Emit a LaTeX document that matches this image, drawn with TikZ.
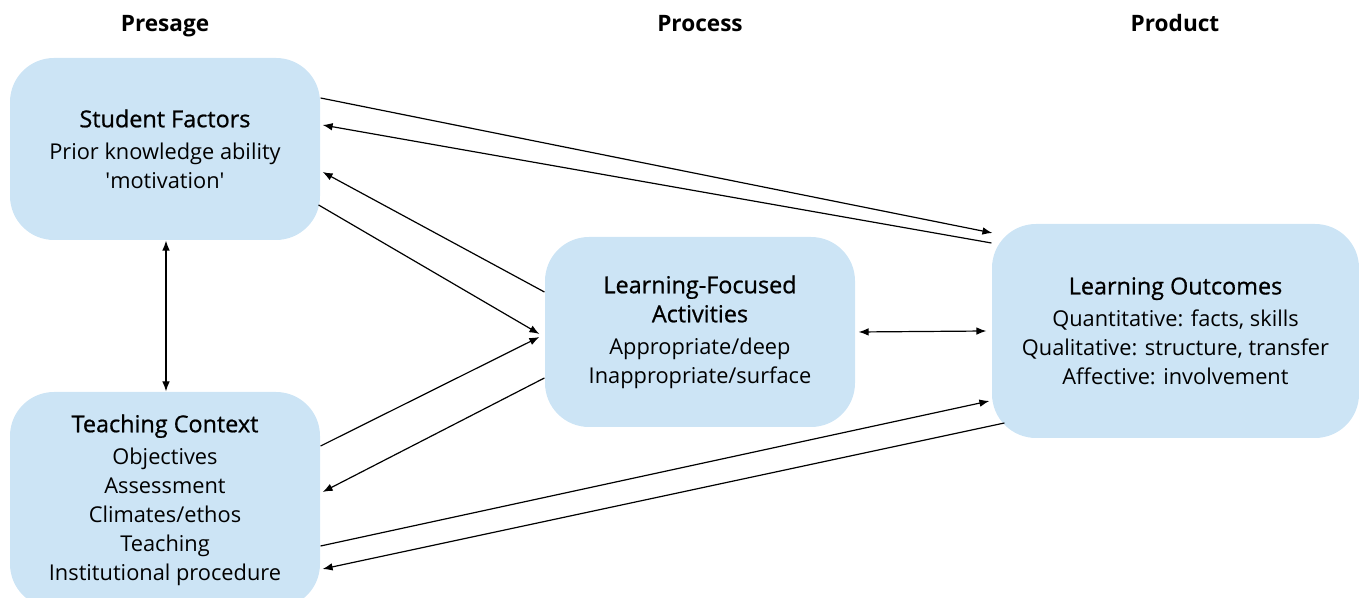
\documentclass[tikz,border=0pt]{standalone}
\usepackage{fontspec}
\setmainfont{Open Sans}
\newfontfamily\titlefont[FakeBold=0.8]{Open Sans}
\usetikzlibrary{positioning,calc,arrows.meta}
\definecolor{boxblue}{HTML}{CCE4F5}
\newcommand{\boxtitle}[1]{{\titlefont\fontsize{11.7}{14.5}\selectfont #1}}
\tikzset{
  factor box/.style={fill=boxblue, rounded corners=22pt, align=center, inner sep=0pt,
    font=\fontsize{10.9}{14.5}\selectfont},
  stage/.style={font=\bfseries\fontsize{11.3}{12}\selectfont, anchor=base},
}
\begin{document}
\begin{tikzpicture}[x=0.5pt, y=0.5pt, >={Latex[length=5pt,width=3.8pt]}, line width=0.6pt]
   \useasboundingbox (0,0) rectangle (1359,598);

   % stage headings
   \path (165,566) node[stage] (presage) {Presage}
   (700,566) node[stage] (process) {Process}
   (1175,566) node[stage] (product) {Product};

   % boxes
   \path (165,449) node[factor box, minimum width=155pt, minimum height=91pt] (sf)
   {\boxtitle{Student Factors}\\[1.5pt] Prior knowledge ability\\ \textquotesingle motivation\textquotesingle};
   \path (165,98) node[factor box, minimum width=155pt, minimum height=108pt] (tc)
   {\boxtitle{Teaching Context}\\[1.5pt] Objectives\\ Assessment\\ Climates/ethos\\ Teaching\\ Institutional procedure};
   \path (700,266) node[factor box, minimum width=155pt, minimum height=95pt] (lfa)
   {\boxtitle{Learning-Focused}\\ \boxtitle{Activities}\\[1.5pt] Appropriate/deep\\ Inappropriate/surface};
   \path (1175.5,267) node[factor box, minimum width=183.5pt, minimum height=107pt] (lo)
   {\boxtitle{Learning Outcomes}\\[1.5pt] Quantitative: facts, skills\\ Qualitative: structure, transfer\\ Affective: involvement};

   % presage <-> product
   \draw[->] ($(sf.east)+(0,51)$) -- ($(lo.west)+(1,98)$);
   \draw[->] ($(lo.west)+(0,88)$) -- ($(sf.east)+(2,24)$);
   \draw[->] ($(tc.east)+(0,-46)$) -- ($(lo.west)+(-2,-70)$);
   \draw[->] ($(lo.west)+(13,-92)$) -- ($(tc.east)+(2,-69)$);

   % presage <-> process
   \draw[->] ($(lfa.west)+(0,40)$) -- ($(sf.east)+(2,-23)$);
   \draw[->] ($(sf.east)+(-2,-56)$) -- ($(lfa.west)+(-5,-2)$);
   \draw[->] ($(tc.east)+(0,54)$) -- ($(lfa.west)+(-5,-5)$);
   \draw[->] ($(lfa.west)+(0,-46)$) -- ($(tc.east)+(2,8)$);

   \draw[<->] ([xshift=0.5pt]sf.south) -- ([xshift=0.5pt]tc.north);
   \draw[<->] ([xshift=1.5pt]lfa.east) -- ([xshift=-2.5pt]lo.west);

\end{tikzpicture}
\end{document}
